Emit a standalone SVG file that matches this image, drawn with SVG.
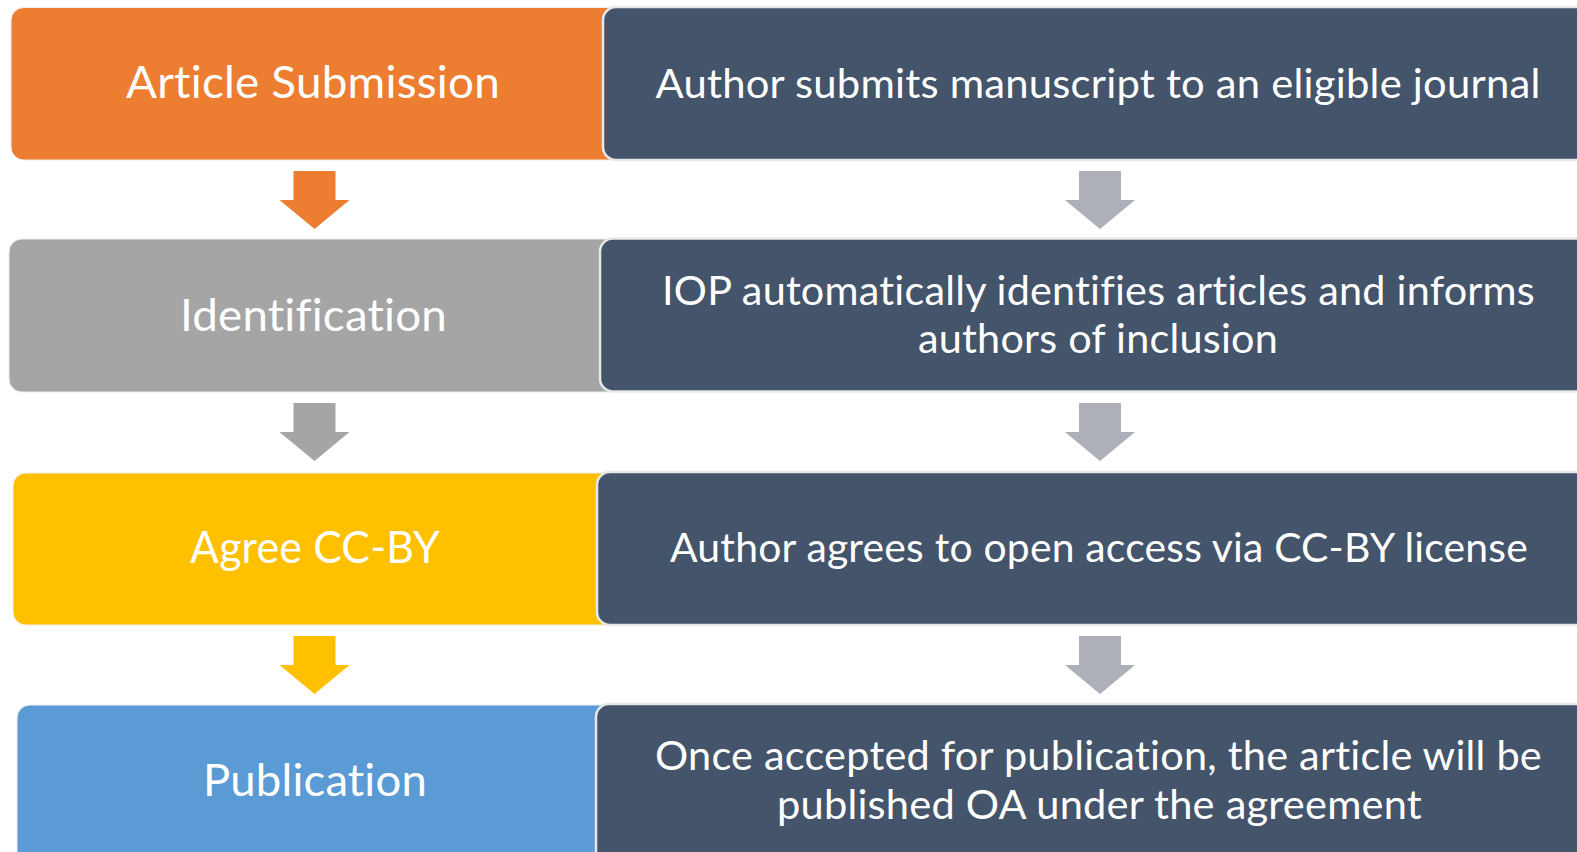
<svg xmlns="http://www.w3.org/2000/svg" width="1577" height="852" viewBox="0 0 1577 852">
<style>
.lt{font-family:Lato,"Open Sans","Liberation Sans",sans-serif;font-size:45px;fill:#fff;text-anchor:middle;font-variant-ligatures:none;font-feature-settings:"liga" 0,"clig" 0;letter-spacing:0.2px}
.rt{font-family:Lato,"Open Sans","Liberation Sans",sans-serif;font-size:40px;fill:#fff;text-anchor:middle;font-variant-ligatures:none;font-feature-settings:"liga" 0,"clig" 0;letter-spacing:0.2px}
.dk{fill:#44546A;stroke:#E8E8E8;stroke-width:2.5}
.lb{stroke:#EDEDED;stroke-width:1}
</style>
<defs>
<path id="arr" d="M-21,0 H21 V29 H35 L0,58 L-35,29 H-21 Z"/>
</defs>
<rect width="1577" height="852" fill="#fff"/>
<g id="connectors">
<use href="#arr" x="314.5" y="171" fill="#ED7D31"/>
<use href="#arr" x="314.5" y="403" fill="#A5A5A5"/>
<use href="#arr" x="314.5" y="636" fill="#FFC000"/>
<use href="#arr" x="1100" y="171" fill="#ADB0B8"/>
<use href="#arr" x="1100" y="403" fill="#ADB0B8"/>
<use href="#arr" x="1100" y="636" fill="#ADB0B8"/>
</g>
<g id="node-submission">
<rect class="lb" x="11" y="7.5" width="620" height="152.5" rx="13" fill="#ED7D31"/>
<text class="lt" x="313" y="98" textLength="374" lengthAdjust="spacingAndGlyphs">Article Submission</text>
</g>
<g id="node-submission-desc">
<rect class="dk" x="603" y="7" width="1000" height="153" rx="13"/>
<text class="rt" x="1098" y="98" textLength="885" lengthAdjust="spacingAndGlyphs">Author submits manuscript to an eligible journal</text>
</g>
<g id="node-identification">
<rect class="lb" x="9" y="239" width="620" height="153" rx="13" fill="#A5A5A5"/>
<text class="lt" x="313.5" y="331" textLength="267" lengthAdjust="spacingAndGlyphs">Identification</text>
</g>
<g id="node-identification-desc">
<rect class="dk" x="600" y="238.5" width="1000" height="153" rx="13"/>
<text class="rt" x="1098.5" y="305" textLength="873" lengthAdjust="spacingAndGlyphs">IOP automatically identifies articles and informs</text>
<text class="rt" x="1098" y="353" textLength="360" lengthAdjust="spacingAndGlyphs">authors of inclusion</text>
</g>
<g id="node-ccby">
<rect class="lb" x="13" y="473" width="620" height="152" rx="13" fill="#FFC000"/>
<text class="lt" x="315" y="563" textLength="250" lengthAdjust="spacingAndGlyphs">Agree CC-BY</text>
</g>
<g id="node-ccby-desc">
<rect class="dk" x="597" y="472" width="1000" height="153" rx="13"/>
<text class="rt" x="1099" y="562" textLength="858" lengthAdjust="spacingAndGlyphs">Author agrees to open access via CC-BY license</text>
</g>
<g id="node-publication">
<rect class="lb" x="17" y="705" width="620" height="170" rx="13" fill="#5B9BD5"/>
<text class="lt" x="315" y="796" textLength="224" lengthAdjust="spacingAndGlyphs">Publication</text>
</g>
<g id="node-publication-desc">
<rect class="dk" x="596" y="704" width="1000" height="170" rx="13"/>
<text class="rt" x="1098.5" y="770" textLength="887" lengthAdjust="spacingAndGlyphs">Once accepted for publication, the article will be</text>
<text class="rt" x="1099.5" y="819" textLength="645" lengthAdjust="spacingAndGlyphs">published OA under the agreement</text>
</g>
</svg>
